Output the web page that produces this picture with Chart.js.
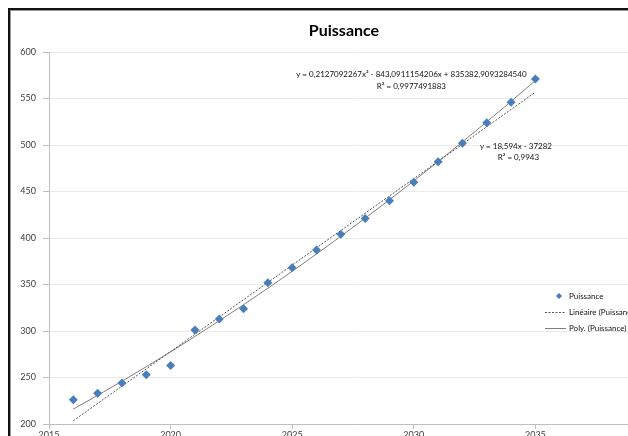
<!DOCTYPE html>
<html>
<head>
<meta charset="utf-8">
<script src="https://cdn.jsdelivr.net/npm/chart.js@4.4.1/dist/chart.umd.min.js"></script>
<style>
    html, body { margin: 0; padding: 0; background: #fff; overflow: hidden; width: 628px; height: 436px; }
    #frame {
        position: absolute; left: 8px; top: 8px;
        width: 680px; height: 470px;
        border-left: 2px solid #111; border-top: 2px solid #111;
        box-shadow: inset 1px 1px 0 #999;
        background: #fff;
    }
    #chart { position: absolute; left: 1px; top: 1px; }
</style>
</head>
<body>
<div id="frame"><canvas id="chart" width="668" height="460"></canvas></div>
<script>
// Données
const years      = [2016, 2017, 2018, 2019, 2020, 2021, 2022, 2023, 2024, 2025,
                    2026, 2027, 2028, 2029, 2030, 2031, 2032, 2033, 2034, 2035];
const puissance  = [226, 233, 244, 253, 263, 301, 313, 324, 352, 368,
                    387, 404, 421, 440, 460, 482, 502, 524, 546, 571];
const linYears   = [2016, 2035];
const linValues  = [203.5, 556.8];
const polyValues = [216.0, 230.8, 246.0, 261.6, 277.6, 294.1, 311.0, 328.3, 346.0, 364.2,
                    382.8, 401.8, 421.3, 441.1, 461.4, 482.1, 503.3, 524.9, 546.9, 569.3];
const xTicks     = [2015, 2020, 2025, 2030, 2035, 2040];

const FONT  = 'Lato, "Open Sans", sans-serif';
const BLUE  = '#4a7ebb';
const GREY  = '#7f7f7f';

const toXY = (xs, ys) => xs.map((x, i) => ({ x, y: ys[i] }));

// Titre, équations, légende (dessinés à la main)
const decorPlugin = {
    id: 'decor',
    afterDraw(chart) {
        const { ctx, scales } = chart;
        const x = scales.x, y = scales.y;
        ctx.save();
        ctx.fillStyle = '#000';
        ctx.textAlign = 'center';
        ctx.textBaseline = 'middle';
        ctx.font = 'bold 16px ' + FONT;
        ctx.fillText('Puissance', 333, 20);

        ctx.font = '8px ' + FONT;
        ctx.fillStyle = '#111';
        ctx.fillText('y = 0,2127092267x\u00b2 - 843,0911154206x + 835382,9093284540', x.getPixelForValue(2029.9), y.getPixelForValue(575.5));
        ctx.fillText('R\u00b2 = 0,9977491883', x.getPixelForValue(2029.9), y.getPixelForValue(563.5));
        ctx.fillText('y = 18,594x - 37282', x.getPixelForValue(2034.2), y.getPixelForValue(499));
        ctx.fillText('R\u00b2 = 0,9943', x.getPixelForValue(2034.3), y.getPixelForValue(487));

        // légende
        const lx = 533, ly = 285;
        ctx.textAlign = 'left';
        ctx.font = '8px ' + FONT;
        ctx.fillStyle = BLUE;
        ctx.beginPath();
        ctx.moveTo(lx + 15, ly - 3); ctx.lineTo(lx + 18, ly); ctx.lineTo(lx + 15, ly + 3); ctx.lineTo(lx + 12, ly);
        ctx.closePath(); ctx.fill();
        ctx.fillStyle = '#111';
        ctx.fillText('Puissance', lx + 25, ly);

        ctx.strokeStyle = '#555';
        ctx.lineWidth = 1;
        ctx.setLineDash([2, 1.5]);
        ctx.beginPath(); ctx.moveTo(lx + 1, ly + 16.5); ctx.lineTo(lx + 22, ly + 16.5); ctx.stroke();
        ctx.setLineDash([]);
        ctx.fillText('Lin\u00e9aire (Puissance)', lx + 25, ly + 16);

        ctx.strokeStyle = GREY;
        ctx.beginPath(); ctx.moveTo(lx + 1, ly + 32.5); ctx.lineTo(lx + 22, ly + 32.5); ctx.stroke();
        ctx.fillText('Poly. (Puissance)', lx + 25, ly + 32);
        ctx.restore();
    }
};

new Chart(document.getElementById('chart').getContext('2d'), {
    type: 'scatter',
    data: {
        datasets: [
            {
                label: 'Puissance',
                data: toXY(years, puissance),
                pointStyle: 'rectRot',
                pointRadius: 4.5,
                backgroundColor: BLUE,
                borderColor: BLUE,
                borderWidth: 0,
                order: 0
            },
            {
                label: 'Linéaire (Puissance)',
                type: 'line',
                data: toXY(linYears, linValues),
                borderColor: '#555',
                borderWidth: 1,
                borderDash: [2, 1.5],
                pointRadius: 0,
                fill: false,
                order: 1
            },
            {
                label: 'Poly. (Puissance)',
                type: 'line',
                data: toXY(years, polyValues),
                borderColor: GREY,
                borderWidth: 1,
                tension: 0.4,
                cubicInterpolationMode: 'monotone',
                pointRadius: 0,
                fill: false,
                order: 2
            }
        ]
    },
    options: {
        responsive: false,
        animation: false,
        events: [],
        layout: { padding: { top: 41, right: 22, left: 0, bottom: 0 } },
        plugins: { legend: { display: false }, title: { display: false }, tooltip: { enabled: false } },
        scales: {
            x: {
                type: 'linear',
                min: 2015, max: 2040,
                afterBuildTicks: s => { s.ticks = xTicks.map(v => ({ value: v })); },
                afterFit: s => { s.height = 47; },
                grid: { drawOnChartArea: false, drawTicks: true, tickLength: 5, tickColor: '#bfbfbf' },
                border: { color: '#bfbfbf' },
                ticks: {
                    font: { family: FONT, size: 9 }, color: '#404040', padding: 1, maxRotation: 0,
                    callback: v => String(v)
                }
            },
            y: {
                min: 200, max: 600,
                afterFit: s => { s.width = 38; },
                grid: { color: '#ebebeb', tickColor: '#bfbfbf', tickLength: 6 },
                border: { color: '#bfbfbf' },
                ticks: { stepSize: 50, font: { family: FONT, size: 9 }, color: '#404040', padding: 7 }
            }
        }
    },
    plugins: [decorPlugin]
});
</script>
</body>
</html>
